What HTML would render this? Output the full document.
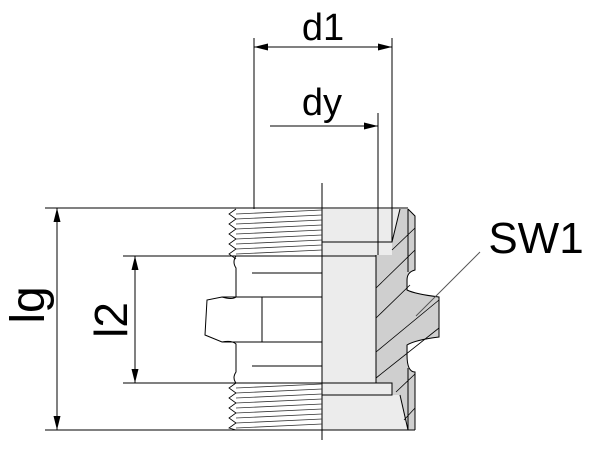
<!DOCTYPE html>
<html><head><meta charset="utf-8"><style>html,body{margin:0;padding:0;background:#fff}svg{display:block}</style></head><body>
<svg width="600" height="449" viewBox="0 0 600 449" xmlns="http://www.w3.org/2000/svg" font-family="Liberation Sans, sans-serif">
<defs>
<marker id="b" viewBox="0 0 20 10" refX="20" refY="5" markerWidth="22" markerHeight="7" orient="auto-start-reverse" markerUnits="userSpaceOnUse"><path d="M0,0L20,5L0,10z" fill="#000"/></marker></defs>
<!-- fills -->
<rect x="322" y="209" width="86" height="221" fill="#ececec"/>
<path d="M400,209 L408,209 L415,216 L415,270 Q407,272 407,280 L407,290 Q415,294 439,297 L439,337 Q415,340 407,345 L407,355 Q407,372 415,372 L415,430 L408,430 L400,395 L392,395 L392,383 L376,383 L376,255 L392,255 L392,242 Z" fill="#cfcfcf"/>
<g stroke="#000" fill="none" stroke-width="1">
<line x1="254" y1="38" x2="254" y2="209"/>
<line x1="392" y1="38" x2="392" y2="209"/>
<line x1="254" y1="47" x2="392" y2="47" marker-start="url(#b)" marker-end="url(#b)"/>
<line x1="270" y1="126" x2="378" y2="126" marker-end="url(#b)"/>
<line x1="378" y1="113" x2="378" y2="255"/>
<line x1="322" y1="183" x2="322" y2="440"/>
<line x1="45" y1="208" x2="408" y2="208"/>
<line x1="45" y1="430" x2="415" y2="430"/>
<line x1="57" y1="208" x2="57" y2="430" marker-start="url(#b)" marker-end="url(#b)"/>
<line x1="123" y1="256" x2="376" y2="256"/>
<line x1="123" y1="383" x2="376" y2="383"/>
<line x1="135" y1="256" x2="135" y2="383" marker-start="url(#b)" marker-end="url(#b)"/>
<path d="M322,242 L392,242 L392,209"/>
<path d="M376,255 L376,383 L392,383 L392,395 L322,395"/>
<path d="M408,209 L415,216 L415,270 Q407,272 407,280 L407,290 Q415,294 439,297 L439,337 Q415,340 407,345 L407,355 Q407,372 415,372 L415,430"/>
<line x1="400" y1="209" x2="392" y2="242"/>
<line x1="400" y1="395" x2="408" y2="430"/>
<line x1="408" y1="209" x2="408" y2="272"/>
<line x1="408" y1="368" x2="408" y2="430"/>
<g stroke-width="0.8">
<line x1="376" y1="288" x2="415" y2="250"/>
<line x1="376" y1="318" x2="410" y2="285"/>
<line x1="376" y1="352" x2="439" y2="300"/>
<line x1="376" y1="378" x2="439" y2="328"/>
<line x1="392" y1="250" x2="415" y2="228"/>
<line x1="396" y1="392" x2="415" y2="374"/>
<line x1="404" y1="420" x2="415" y2="408"/>
</g>
<line x1="480" y1="252" x2="416" y2="316" stroke="#555"/>
<path d="M236,256 Q232,262 236,268 L236,297 Q232,300 222,297 L207,300 L205,335 L222,342 Q232,340 236,344 L236,372 Q232,378 236,383"/>
<line x1="222" y1="297" x2="322" y2="297"/>
<line x1="222" y1="342" x2="322" y2="342"/>
<line x1="262" y1="297" x2="262" y2="342"/>
<line x1="252" y1="273" x2="322" y2="273"/>
<line x1="252" y1="366" x2="322" y2="366"/>
<path d="M236,209 L229,214 L236,219 L229,224 L236,229 L229,234 L236,239 L229,244 L236,249 L229,254 L236,259" stroke-width="0.8"/>
<path d="M236,383 L229,388 L236,393 L229,398 L236,403 L229,408 L236,413 L229,418 L236,423 L229,428 L236,430" stroke-width="0.8"/>
<g stroke-width="0.8" stroke="#333">
<line x1="236" y1="214" x2="322" y2="210"/><line x1="236" y1="219" x2="322" y2="215"/>
<line x1="236" y1="224" x2="322" y2="220"/><line x1="236" y1="229" x2="322" y2="225"/>
<line x1="236" y1="234" x2="322" y2="230"/><line x1="236" y1="239" x2="322" y2="235"/>
<line x1="236" y1="244" x2="322" y2="240"/><line x1="236" y1="249" x2="322" y2="245"/>
<line x1="236" y1="254" x2="322" y2="250"/>
<line x1="236" y1="388" x2="322" y2="384"/><line x1="236" y1="393" x2="322" y2="389"/>
<line x1="236" y1="398" x2="322" y2="394"/><line x1="236" y1="403" x2="322" y2="399"/>
<line x1="236" y1="408" x2="322" y2="404"/><line x1="236" y1="413" x2="322" y2="409"/>
<line x1="236" y1="418" x2="322" y2="414"/><line x1="236" y1="423" x2="322" y2="419"/>
<line x1="236" y1="428" x2="322" y2="424"/>
</g>
</g>
<g fill="#000" stroke="none">
<text x="323" y="40" font-size="38" text-anchor="middle">d1</text>
<text x="322" y="115" font-size="38" text-anchor="middle">dy</text>
<text x="536" y="253" font-size="44" text-anchor="middle">SW1</text>
<text transform="translate(44,305) rotate(-90)" font-size="48" text-anchor="middle">lg</text>
<text transform="translate(127,320) rotate(-90)" font-size="46" text-anchor="middle">l2</text>
</g>
</svg>
</body></html>
